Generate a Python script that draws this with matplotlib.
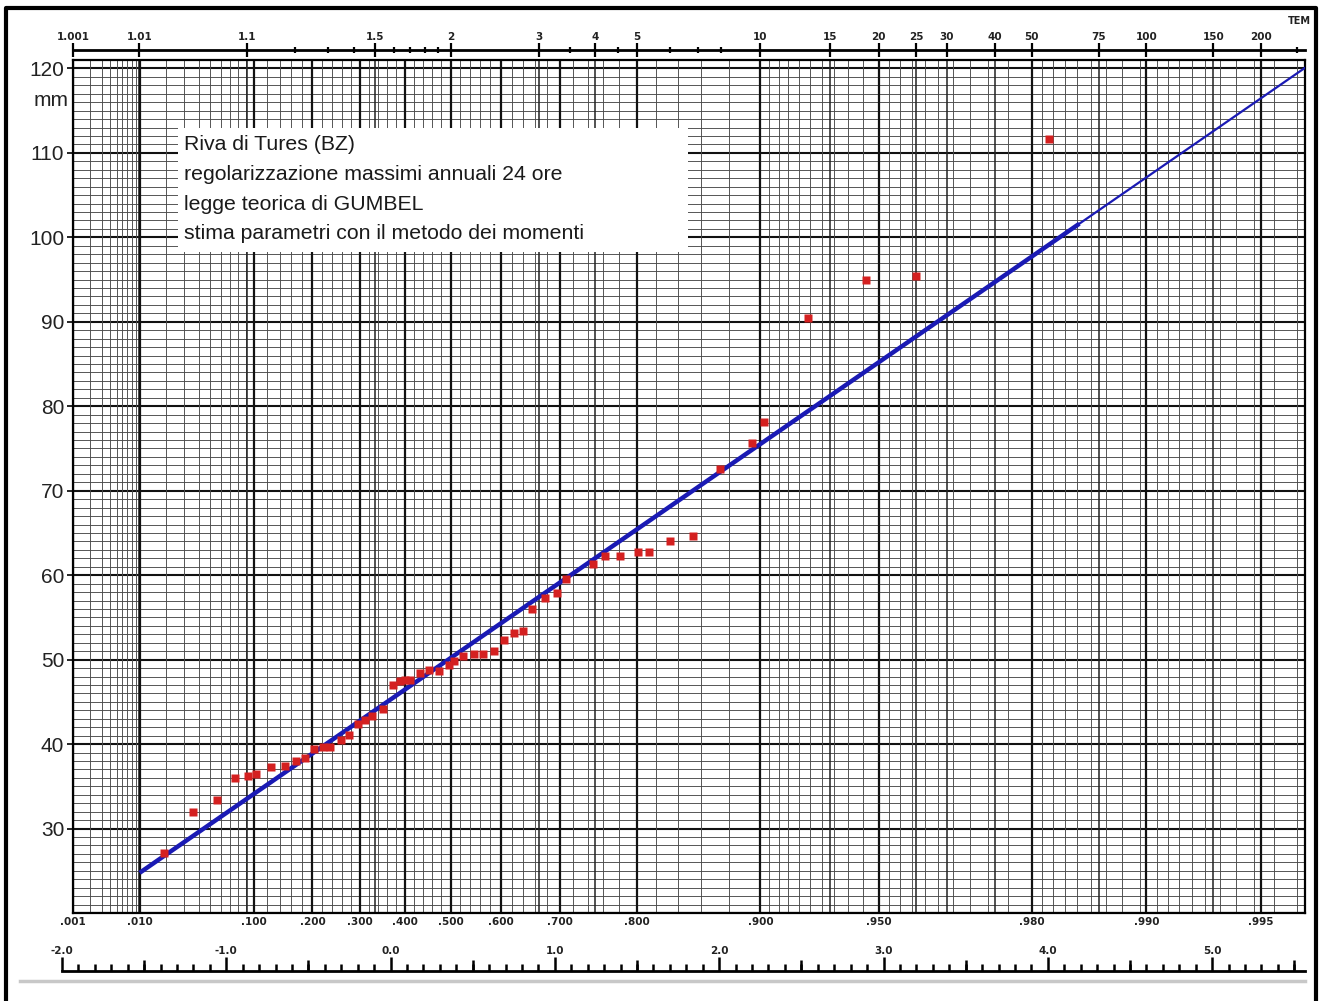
import numpy as np
import matplotlib.pyplot as plt
from matplotlib.lines import Line2D
from matplotlib.patches import Rectangle

# annual 24 h maxima (mm), ranked, and their plotting frequency
rain_mm = [27.1, 31.9, 33.4, 36.0, 36.2, 36.4, 37.3, 37.4, 38.0, 38.3,
           39.4, 39.7, 39.7, 40.5, 41.1, 42.4, 42.9, 43.3, 44.1, 47.0,
           47.5, 47.6, 47.6, 48.4, 48.8, 48.7, 49.4, 49.8, 50.4, 50.7,
           50.7, 51.0, 52.3, 53.2, 53.4, 56.0, 57.3, 57.9, 59.5, 61.3,
           62.3, 62.3, 62.7, 62.7, 64.0, 64.6, 72.6, 75.6, 78.1, 90.5,
           95.0, 95.4, 111.7]
freq = [0.019, 0.036, 0.056, 0.076, 0.093, 0.104, 0.126, 0.149, 0.168, 0.185,
        0.204, 0.221, 0.236, 0.258, 0.276, 0.296, 0.311, 0.327, 0.350, 0.374,
        0.389, 0.400, 0.412, 0.433, 0.454, 0.475, 0.497, 0.507, 0.526, 0.548,
        0.566, 0.586, 0.606, 0.623, 0.639, 0.655, 0.677, 0.695, 0.709, 0.747,
        0.762, 0.781, 0.801, 0.813, 0.833, 0.853, 0.874, 0.895, 0.902, 0.924,
        0.946, 0.960, 0.982]

title_lines = ["Riva di Tures (BZ)",
               "regolarizzazione massimi annuali 24 ore",
               "legge teorica di GUMBEL",
               "stima parametri con il metodo dei momenti"]

# return period scale (top)
T_ticks = [1.001, 1.01, 1.1, 1.5, 2, 3, 4, 5, 10, 15, 20, 25, 30, 40, 50, 75, 100, 150, 200]
T_labels = ['1.001', '1.01', '1.1', '1.5', '2', '3', '4', '5', '10', '15', '20',
            '25', '30', '40', '50', '75', '100', '150', '200']
T_small = [1.2, 1.3, 1.4, 1.6, 1.7, 1.8, 1.9, 3.5, 4.5, 6, 7, 8, 250]

# probability scale (bottom)
F_ticks = [0.001, 0.01, 0.1, 0.2, 0.3, 0.4, 0.5, 0.6, 0.7, 0.8, 0.9, 0.95, 0.98, 0.99, 0.995]
F_labels = ['.001', '.010', '.100', '.200', '.300', '.400', '.500', '.600', '.700',
            '.800', '.900', '.950', '.980', '.990', '.995']

# reduced variate scale
y_ticks_red = [-2, -1, 0, 1, 2, 3, 4, 5]
y_labels_red = ['-2.0', '-1.0', '0.0', '1.0', '2.0', '3.0', '4.0', '5.0']

mm_ticks = [30, 40, 50, 60, 70, 80, 90, 100, 110, 120]


def gum(F):
    return -np.log(-np.log(np.asarray(F, dtype=float)))


W, H = 1322, 1001
PX_UNIT = 164.3     # pixels per unit of reduced variate
X0 = 390.6          # pixel of reduced variate 0


def fx(px):
    return px / W


def fy(py):
    return 1 - py / H


fig = plt.figure(figsize=(W / 100, H / 100), dpi=100)
fig.patch.set_facecolor('white')

xmin = gum(0.001) - 0.003
L = X0 + xmin * PX_UNIT
R, TOP, BOT = 1305, 60, 913
ax = fig.add_axes([fx(L), fy(BOT), (R - L) / W, (BOT - TOP) / H])
xmax = (R - X0) / PX_UNIT
ax.set_xlim(xmin, xmax)
ax.set_ylim(20, 121)

# --- paper grid ---
h_minor = [v for v in range(20, 122) if v % 10]
h_major = [v for v in range(20, 122) if v % 10 == 0]
ax.hlines(h_minor, xmin, xmax, color='#4a4a4a', lw=0.65, zorder=1)
ax.hlines(h_major, xmin, xmax, color='#111111', lw=1.5, zorder=1)

F_grid = np.concatenate([
    np.arange(0.001, 0.01, 0.001),
    np.arange(0.01, 0.1, 0.01),
    np.arange(0.1, 0.9, 0.02),
    np.arange(0.9, 0.95, 0.005),
    np.arange(0.95, 0.98, 0.003),
    np.arange(0.98, 0.99, 0.0012),
    np.arange(0.99, 0.9975, 0.0006),
])
ax.vlines(gum(F_grid), 20, 121, color='#4a4a4a', lw=0.65, zorder=1)
ax.vlines(gum([1 - 1 / t for t in T_ticks]), 20, 121, color='#222222', lw=1.1, zorder=1)
ax.vlines(gum(F_ticks), 20, 121, color='#111111', lw=1.6, zorder=1)

for s in ax.spines.values():
    s.set_linewidth(1.6)

# white box under the caption
ax.add_patch(Rectangle((fx(178), fy(252)), (688 - 178) / W, (252 - 128) / H,
                       transform=fig.transFigure, facecolor='white',
                       edgecolor='none', zorder=3))
for i, line in enumerate(title_lines):
    fig.text(fx(184), fy(145 + i * 29.5), line, fontsize=15.3,
             family='Liberation Sans', color='#1a1a1a', va='center', ha='left',
             zorder=6)

# --- data and Gumbel fit (method of moments) ---
vals = np.array(rain_mm)
alpha = np.std(vals, ddof=1) * np.sqrt(6) / np.pi
u = vals.mean() - 0.5772 * alpha
x_thick = np.array([gum(0.01), gum(0.985)])
x_thin = np.array([gum(0.985), xmax])
ax.plot(x_thick, u + alpha * x_thick, color='#1a1ab4', lw=3.2, zorder=4,
        solid_capstyle='butt')
ax.plot(x_thin, u + alpha * x_thin, color='#1a1ab4', lw=1.6, zorder=4)
ax.plot(gum(freq), rain_mm, 's', color='#d42020', ms=5.5, mec='none', zorder=5)

# --- axes ticks ---
ax.set_yticks(mm_ticks)
ax.set_yticklabels([str(v) for v in mm_ticks], fontsize=15,
                   family='Liberation Sans', color='#222222')
ax.tick_params(axis='y', length=4, width=1.2, pad=2)
fig.text(fx(51), fy(101), 'mm', fontsize=15, family='Liberation Sans',
         color='#222222', ha='center', va='center')

ax.set_xticks(gum(F_ticks))
ax.set_xticklabels(F_labels, fontsize=7.5, fontweight='bold', color='#222222')
ax.tick_params(axis='x', length=0, pad=3)

top = ax.secondary_xaxis(1 + 10 / (BOT - TOP))
top.set_xticks(gum([1 - 1 / t for t in T_ticks]))
top.set_xticklabels(T_labels, fontsize=7.5, fontweight='bold', color='#222222')
top.set_xticks(gum([1 - 1 / t for t in T_small]), minor=True)
top.tick_params(which='major', direction='inout', length=10, width=1.6, pad=1)
top.tick_params(which='minor', direction='inout', length=5, width=1.6)
top.spines['top'].set_linewidth(2)
fig.text(fx(1288), fy(21), 'TEM', fontsize=7, fontweight='bold',
         color='#222222', va='center', ha='left')

# reduced variate scale at the bottom
ax2 = fig.add_axes([fx(62), fy(971), (R - 62) / W, 0.5 / H])
ax2.set_xlim((62 - X0) / PX_UNIT, (R - X0) / PX_UNIT)
for name, s in ax2.spines.items():
    s.set_visible(name == 'top')
ax2.spines['top'].set_linewidth(2)
ax2.set_facecolor('none')
ax2.set_yticks([])
ax2.xaxis.set_ticks_position('top')
ax2.set_xticks(y_ticks_red)
ax2.set_xticklabels(y_labels_red, fontsize=7.5, fontweight='bold', color='#222222')
ax2.set_xticks(np.arange(-2.0, 5.6, 0.1), minor=True)
ax2.tick_params(which='major', direction='out', length=10, width=1.8, pad=0.5)
ax2.tick_params(which='minor', direction='out', length=5, width=1.8)
half = ax2.secondary_xaxis('top')
half.set_xticks(np.arange(-1.5, 5.6, 1.0))
half.set_xticklabels([])
half.spines['top'].set_visible(False)
half.tick_params(direction='out', length=7.5, width=1.8)

# page decorations
fig.add_artist(Line2D([fx(20), fx(1305)], [fy(981), fy(981)], transform=fig.transFigure,
                      color='#c8c8c8', lw=2.5))
fig.add_artist(Line2D([fx(6), fx(6), fx(1316), fx(1316)], [0, fy(8), fy(8), 0],
                      transform=fig.transFigure, color='black', lw=3))

fig.savefig('out.png', dpi=100)
